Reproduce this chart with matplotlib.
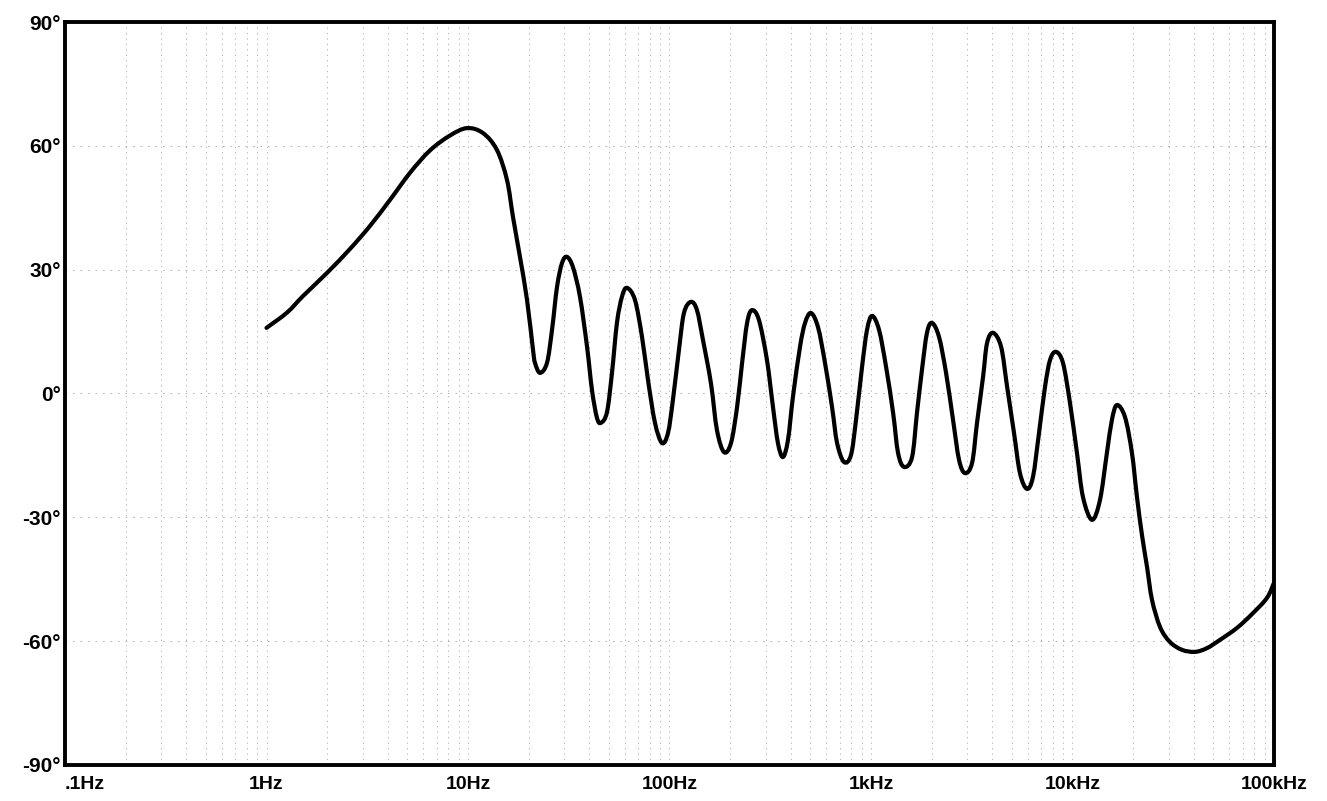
import matplotlib
matplotlib.use("Agg")
import matplotlib.pyplot as plt
import matplotlib.transforms as mtrans
from matplotlib.path import Path
from matplotlib.patches import PathPatch
import numpy as np

# phase response (Hz, degrees)
freq = [1.0, 1.264, 1.517, 1.995, 2.594, 3.263, 4.10, 5.16, 6.48, 8.14, 9.89,
        11.87, 13.92, 15.62, 16.72, 18.11, 19.63, 21.03, 21.51, 22.77, 24.66,
        26.12, 27.66, 29.28, 30.99, 33.19, 35.97, 38.99, 41.26, 43.67, 45.73,
        48.97, 51.84, 54.86, 58.07, 61.47, 67.38, 73.07, 78.22, 84.73, 91.8,
        98.3, 104.0, 111.4, 118.0, 127.8, 136.9, 146.6, 160.6, 172.1, 186.5,
        202, 216.5, 229.3, 242.8, 256.7, 278, 304.7, 326.4, 345.4, 365.6,
        387.3, 410.1, 444.5, 470.9, 503.8, 545.8, 591.5, 641, 679, 735,
        796, 843, 903, 956, 1013, 1097, 1189, 1288, 1363, 1460,
        1600, 1692, 1791, 1897, 2010, 2177, 2359, 2555, 2737, 2932,
        3177, 3361, 3600, 3768, 4038, 4426, 4741, 5130, 5490, 5945,
        6370, 6823, 7310, 7740, 8280, 8975, 9724, 10530, 11280, 12500,
        13700, 14830, 15700, 16630, 18230, 19740, 20910, 22140, 23450, 24830,
        27230, 30470, 34950, 40540, 46510, 53970, 65560, 78770, 92450, 100000]
phase = [15.9, 19.6, 23.6, 29.2, 35.0, 40.6, 46.9, 53.5, 58.9, 62.5, 64.3,
         63.1, 59.0, 51.7, 42.8, 33.1, 22.7, 10.5, 7.4, 5.0, 7.4,
         15.4, 25.8, 31.6, 33.1, 30.6, 23.4, 11.3, 0.8, -5.9, -7.1,
         -4.5, 5.0, 17.1, 23.4, 25.6, 22.7, 13.7, 3.3, -7.1, -12.0,
         -9.6, -1.6, 10.5, 19.5, 22.2, 20.2, 13.0, 2.5, -8.9, -14.2,
         -12.0, -3.3, 7.4, 17.1, 20.2, 17.8, 8.1, -3.3, -12.0, -15.4,
         -11.3, -0.8, 11.3, 17.1, 19.5, 16.1, 7.4, -3.3, -12.0, -16.6,
         -14.9, -6.4, 6.4, 15.4, 18.8, 15.4, 6.4, -4.7, -14.4, -17.8,
         -15.4, -4.7, 5.7, 14.7, 17.1, 13.7, 5.0, -6.4, -16.1, -19.3,
         -16.8, -7.1, 4.0, 12.2, 14.7, 11.3, 1.6, -9.6, -19.3, -23.1,
         -20.2, -9.6, 1.6, 8.1, 10.1, 7.4, -2.3, -14.4, -25.1, -30.6,
         -25.8, -14.4, -6.4, -2.8, -5.7, -14.4, -25.1, -34.3, -42.0, -50.0,
         -56.6, -60.2, -62.1, -62.6, -61.7, -59.7, -56.8, -53.2, -49.5, -45.9]

xticks = [0.1, 1, 10, 100, 1000, 10000, 100000]
xlabels = ['.1Hz', '1Hz', '10Hz', '100Hz', '1kHz', '10kHz', '100kHz']
xlabel_shift = [2, 9, 0, 2, 11, 15, 8]   # px, labels sit a bit right of the lines
yticks = [-90, -60, -30, 0, 30, 60, 90]
ylabels = ['-90°', '-60°', '-30°', '0°', '30°', '60°', '90°']

fig = plt.figure(figsize=(13.27, 8.01), dpi=100)
ax = fig.add_axes([0.049, 0.045, 0.911, 0.9275])

ax.set_xscale('log')
ax.set_xlim(0.1, 100000)
ax.set_ylim(-90, 90)

# faint dotted grid like the printed paper
minor = [m * 10.0 ** e for e in range(-1, 5) for m in range(2, 10)]
for f in minor + xticks[1:-1]:
    ax.axvline(f, color='#a8a8a8', lw=0.6, ls=(0, (1.5, 5)), zorder=1)
for d in yticks[1:-1]:
    ax.axhline(d, color='#a8a8a8', lw=0.6, ls=(0, (2, 7)), zorder=1)

# smooth pen trace through the read points (cubic segments in log-f space)
lx = np.log10(freq)
py = np.array(phase)
pts = np.column_stack([lx, py])
n = len(pts)
verts = [pts[0]]
codes = [Path.MOVETO]
for i in range(n - 1):
    p0 = pts[max(i - 1, 0)]
    p1 = pts[i]
    p2 = pts[i + 1]
    p3 = pts[min(i + 2, n - 1)]
    verts += [p1 + (p2 - p0) / 6, p2 - (p3 - p1) / 6, p2]
    codes += [Path.CURVE4] * 3
verts = np.array(verts)
verts[:, 0] = 10 ** verts[:, 0]
trace = PathPatch(Path(verts, codes), fill=False, ec='black', lw=3.0,
                  joinstyle='round', capstyle='round', zorder=3)
ax.add_patch(trace)

for s in ax.spines.values():
    s.set_linewidth(2.8)
    s.set_color('black')

ax.set_xticks(xticks)
ax.set_xticklabels(xlabels, fontsize=14, fontweight='bold', family='Liberation Sans')
ax.xaxis.set_minor_locator(matplotlib.ticker.NullLocator())
for lab, dx in zip(ax.get_xticklabels(), xlabel_shift):
    lab.set_transform(lab.get_transform() + mtrans.ScaledTranslation(dx / 100, 0, fig.dpi_scale_trans))
ax.get_xticklabels()[0].set_ha('left')
ax.set_yticks(yticks)
ax.set_yticklabels(ylabels, fontsize=15, fontweight='bold', family='Liberation Sans')
ax.tick_params(length=0, pad=3)
ax.tick_params(axis='x', pad=8)

fig.savefig('out.png', dpi=100)
